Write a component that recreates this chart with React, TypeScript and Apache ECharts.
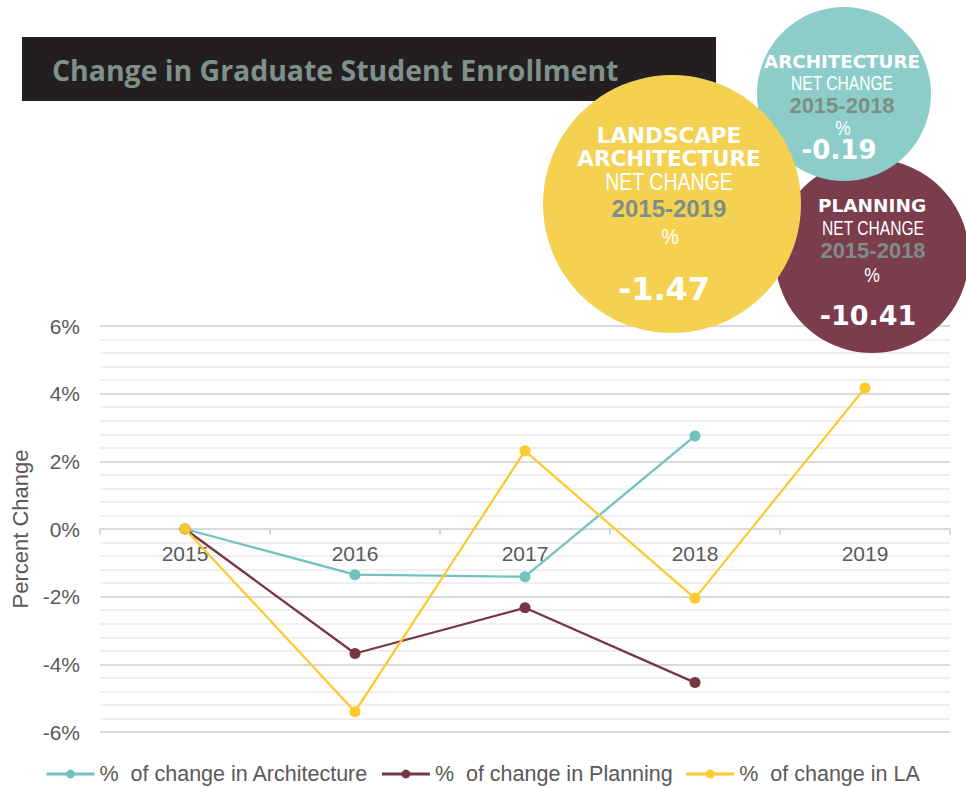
import React, { useEffect, useRef } from "react";
import * as echarts from "echarts";

const years = ["2015", "2016", "2017", "2018", "2019"];
const architecture = [0, -1.35, -1.41, 2.75, null];
const planning = [0, -3.68, -2.33, -4.54, null];
const landscape = [0, -5.4, 2.31, -2.05, 4.17];
const seriesNames = [
  "%  of change in Architecture",
  "%  of change in Planning",
  "%  of change in LA",
];
const lineColors = ["#6fc2bf", "#773646", "#fec82f"];

const title = "Change in Graduate Student Enrollment";
const laLines = ["LANDSCAPE", "ARCHITECTURE", "NET CHANGE", "2015-2019", "%", "-1.47"];
const archLines = ["ARCHITECTURE", "NET CHANGE", "2015-2018", "%", "-0.19"];
const planLines = ["PLANNING", "NET CHANGE", "2015-2018", "%", "-10.41"];

const WHITE = "#ffffff";
const GRAYTXT = "#7d8e89";

function txt(text: string, x: number, y: number, font: string, size: number, weight: string, color: string, scaleX = 1) {
  return {
    type: "text",
    x,
    y,
    scaleX,
    z: 110,
    style: {
      text,
      x: 0,
      y: 0,
      fill: color,
      fontFamily: font,
      fontSize: size,
      fontWeight: weight,
      textAlign: "center",
      textVerticalAlign: "middle",
    },
  };
}

export default function App() {
  const ref = useRef<HTMLDivElement>(null);
  useEffect(() => {
    if (!ref.current) return;
    const chart = echarts.init(ref.current, null, { renderer: "svg" });
    const bold = "DejaVu Sans";
    const lib = "Liberation Sans";
    const option: any = {
      animation: false,
      backgroundColor: "#ffffff",
      grid: { left: 100, right: 16, top: 326, bottom: 56, containLabel: false, outerBoundsMode: "none" },
      legend: {
        left: 40,
        top: 758,
        itemWidth: 48,
        itemHeight: 11,
        itemGap: 12,
        data: seriesNames,
        lineStyle: { width: 3 },
        textStyle: { fontFamily: lib, fontSize: 21.5, color: "#595959" },
      },
      xAxis: {
        type: "category",
        data: years,
        boundaryGap: true,
        offset: -203,
        axisLine: { onZero: true, lineStyle: { color: "#d9d9d9", width: 2 } },
        axisTick: { show: true, length: 6, lineStyle: { color: "#d9d9d9", width: 2 } },
        axisLabel: { fontFamily: lib, fontSize: 21, color: "#595959", margin: 14 },
        splitLine: { show: false },
      },
      yAxis: {
        type: "value",
        min: -6,
        max: 6,
        interval: 2,
        name: "Percent Change",
        nameLocation: "middle",
        nameGap: 68,
        nameTextStyle: { fontFamily: lib, fontSize: 22, color: "#595959" },
        axisLine: { show: false },
        axisTick: { show: false },
        axisLabel: { formatter: "{value}%", fontFamily: lib, fontSize: 21, color: "#595959", margin: 20 },
        splitLine: { show: true, lineStyle: { color: "#d9d9d9", width: 2 } },
        minorTick: { show: false, splitNumber: 5 },
        minorSplitLine: { show: true, lineStyle: { color: "#efefef", width: 2 } },
      },
      series: [architecture, planning, landscape].map((d, i) => ({
        name: seriesNames[i],
        type: "line",
        data: d,
        symbol: "circle",
        symbolSize: 11,
        connectNulls: false,
        lineStyle: { color: lineColors[i], width: 2.25 },
        itemStyle: { color: lineColors[i] },
        z: 2 + i,
      })),
      graphic: [
        { type: "rect", z: 100, shape: { x: 22, y: 37, width: 694, height: 64 }, style: { fill: "#231f20" } },
        {
          type: "text",
          z: 101,
          x: 52,
          y: 69,
          scaleX: 0.98,
          style: {
            text: title,
            x: 0,
            y: 0,
            fill: "#7f918a",
            fontFamily: "Open Sans",
            fontSize: 29,
            fontWeight: "bold",
            textAlign: "left",
            textVerticalAlign: "middle",
          },
        },
        { type: "circle", z: 102, shape: { cx: 872, cy: 256, r: 97 }, style: { fill: "#7b3c4d" } },
        { type: "circle", z: 103, shape: { cx: 844, cy: 94, r: 87 }, style: { fill: "#8ccdca" } },
        { type: "circle", z: 104, shape: { cx: 672, cy: 204, r: 129 }, style: { fill: "#f5d152" } },
        // Landscape
        txt(laLines[0], 669, 135, bold, 21.5, "bold", WHITE),
        txt(laLines[1], 669, 158, bold, 21.5, "bold", WHITE),
        txt(laLines[2], 669, 182, lib, 23.5, "normal", WHITE, 0.83),
        txt(laLines[3], 669, 208.5, lib, 24, "bold", GRAYTXT),
        txt(laLines[4], 670, 236, lib, 22, "normal", WHITE, 0.9),
        txt(laLines[5], 664, 288.5, bold, 32, "bold", WHITE),
        // Architecture
        txt(archLines[0], 842, 61, bold, 18.3, "bold", WHITE),
        txt(archLines[1], 842, 83.5, lib, 19.5, "normal", WHITE, 0.8),
        txt(archLines[2], 842, 105, lib, 22, "bold", GRAYTXT),
        txt(archLines[3], 843, 128.5, lib, 19.5, "normal", WHITE, 0.9),
        txt(archLines[4], 839, 150, bold, 26, "bold", WHITE),
        // Planning
        txt(planLines[0], 872, 205, bold, 18.5, "bold", WHITE),
        txt(planLines[1], 873, 228.5, lib, 19.5, "normal", WHITE, 0.8),
        txt(planLines[2], 873, 250, lib, 22, "bold", GRAYTXT),
        txt(planLines[3], 872, 275.5, lib, 19.5, "normal", WHITE, 0.9),
        txt(planLines[4], 868, 315, bold, 27, "bold", WHITE),
      ],
    };
    chart.setOption(option);
    return () => chart.dispose();
  }, []);
  return (
    <div
      ref={ref}
      style={{ position: "fixed", left: 0, top: 0, width: 966, height: 788 }}
    />
  );
}
